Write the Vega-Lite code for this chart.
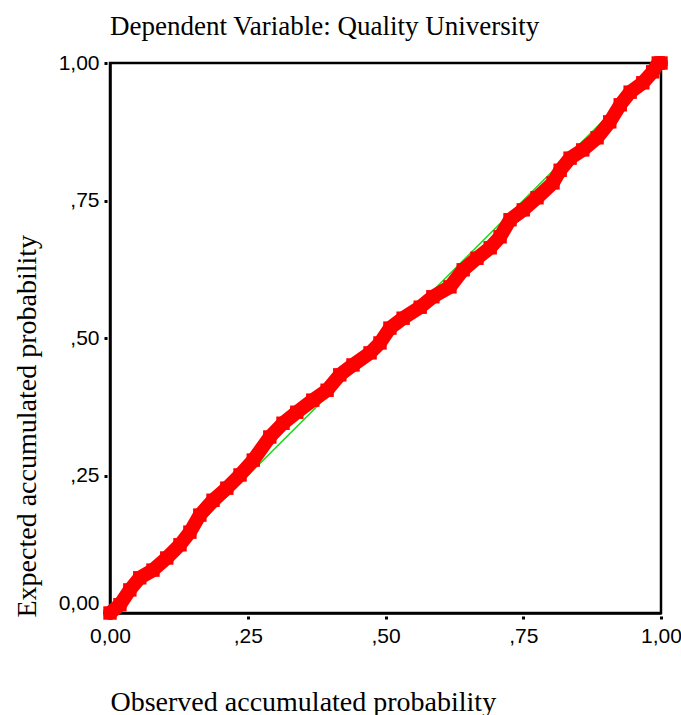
{
  "$schema": "https://vega.github.io/schema/vega-lite/v6.json",
  "autosize": "none",
  "width": 551,
  "height": 550,
  "padding": {"left": 110, "top": 63, "right": 20, "bottom": 102},
  "background": "white",
  "title": {
    "text": "Dependent Variable: Quality University",
    "font": "Liberation Serif",
    "fontSize": 27,
    "fontWeight": "normal",
    "color": "black",
    "anchor": "start",
    "frame": "group",
    "baseline": "alphabetic",
    "offset": -10
  },
  "datasets": {
    "pp": [
      {"observed": 0.000, "expected": 0.000},
      {"observed": 0.018, "expected": 0.015},
      {"observed": 0.036, "expected": 0.042},
      {"observed": 0.054, "expected": 0.064},
      {"observed": 0.078, "expected": 0.078},
      {"observed": 0.103, "expected": 0.100},
      {"observed": 0.127, "expected": 0.124},
      {"observed": 0.145, "expected": 0.147},
      {"observed": 0.163, "expected": 0.178},
      {"observed": 0.187, "expected": 0.205},
      {"observed": 0.212, "expected": 0.227},
      {"observed": 0.236, "expected": 0.251},
      {"observed": 0.260, "expected": 0.278},
      {"observed": 0.290, "expected": 0.320},
      {"observed": 0.314, "expected": 0.345},
      {"observed": 0.339, "expected": 0.365},
      {"observed": 0.368, "expected": 0.387},
      {"observed": 0.394, "expected": 0.405},
      {"observed": 0.417, "expected": 0.433},
      {"observed": 0.441, "expected": 0.451},
      {"observed": 0.472, "expected": 0.473},
      {"observed": 0.490, "expected": 0.491},
      {"observed": 0.508, "expected": 0.518},
      {"observed": 0.532, "expected": 0.536},
      {"observed": 0.563, "expected": 0.556},
      {"observed": 0.586, "expected": 0.575},
      {"observed": 0.617, "expected": 0.593},
      {"observed": 0.641, "expected": 0.624},
      {"observed": 0.666, "expected": 0.645},
      {"observed": 0.690, "expected": 0.664},
      {"observed": 0.708, "expected": 0.684},
      {"observed": 0.726, "expected": 0.715},
      {"observed": 0.750, "expected": 0.733},
      {"observed": 0.775, "expected": 0.755},
      {"observed": 0.804, "expected": 0.782},
      {"observed": 0.817, "expected": 0.805},
      {"observed": 0.835, "expected": 0.827},
      {"observed": 0.858, "expected": 0.842},
      {"observed": 0.884, "expected": 0.864},
      {"observed": 0.907, "expected": 0.893},
      {"observed": 0.926, "expected": 0.924},
      {"observed": 0.944, "expected": 0.947},
      {"observed": 0.967, "expected": 0.964},
      {"observed": 0.985, "expected": 0.984},
      {"observed": 0.995, "expected": 1.000},
      {"observed": 1.000, "expected": 1.000}
    ],
    "ref": [
      {"observed": 0, "expected": 0},
      {"observed": 1, "expected": 1}
    ]
  },
  "config": {
    "view": {"stroke": "black", "strokeWidth": 2.5},
    "axis": {
      "domainColor": "black",
      "domainWidth": 2.5,
      "grid": false,
      "tickColor": "black",
      "tickSize": 6,
      "tickWidth": 3,
      "tickDash": [0, 3, 3],
      "labelFont": "Liberation Sans",
      "labelFontSize": 21,
      "labelColor": "black",
      "titleFont": "Liberation Serif",
      "titleFontSize": 28,
      "titleFontWeight": "normal",
      "titleColor": "black"
    }
  },
  "layer": [
    {
      "data": {"name": "ref"},
      "mark": {"type": "line", "color": "#22dd22", "strokeWidth": 1.6},
      "encoding": {
        "x": {"field": "observed", "type": "quantitative"},
        "y": {"field": "expected", "type": "quantitative"}
      }
    },
    {
      "data": {"name": "pp"},
      "mark": {"type": "line", "color": "#ff0000", "strokeWidth": 14, "strokeCap": "round", "strokeJoin": "round"},
      "encoding": {
        "x": {"field": "observed", "type": "quantitative"},
        "y": {"field": "expected", "type": "quantitative"},
        "order": {"field": "observed"}
      }
    },
    {
      "data": {"name": "pp"},
      "mark": {"type": "point", "shape": "square", "filled": true, "color": "#ff0000", "opacity": 1, "size": 180},
      "encoding": {
        "x": {
          "field": "observed",
          "type": "quantitative",
          "scale": {"domain": [0, 1], "nice": false, "zero": false},
          "axis": {
            "values": [0, 0.25, 0.5, 0.75, 1],
            "labelExpr": "datum.value === 0 ? '0,00' : datum.value === 1 ? '1,00' : ',' + format(datum.value * 100, '02d')",
            "labelPadding": 6,
            "labelFlush": false,
            "labelOverlap": false,
            "title": "Observed accumulated probability",
            "titleX": 0,
            "titleY": 97,
            "titleAlign": "left",
            "titleAnchor": "start",
            "titleBaseline": "alphabetic"
          }
        },
        "y": {
          "field": "expected",
          "type": "quantitative",
          "scale": {"domain": [0, 1], "nice": false, "zero": false},
          "axis": {
            "values": [0, 0.25, 0.5, 0.75, 1],
            "labelExpr": "datum.value === 0 ? '0,00' : datum.value === 1 ? '1,00' : ',' + format(datum.value * 100, '02d')",
            "labelPadding": 5,
            "labelFlush": false,
            "labelOverlap": false,
            "labelBaseline": {"condition": {"test": "datum.value === 0", "value": "bottom"}, "value": "middle"},
            "title": "Expected accumulated probability",
            "titleAngle": 270,
            "titleX": -75,
            "titleY": 554,
            "titleAlign": "left",
            "titleAnchor": "start",
            "titleBaseline": "alphabetic"
          }
        }
      }
    }
  ]
}
